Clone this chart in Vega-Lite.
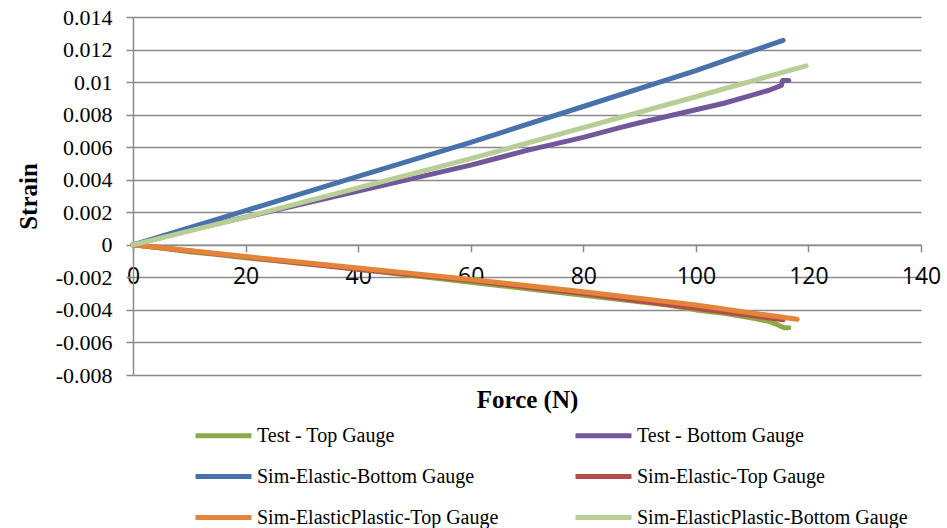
{
  "$schema": "https://vega.github.io/schema/vega-lite/v6.json",
  "autosize": "none",
  "width": 788,
  "height": 358,
  "padding": {"left": 133, "top": 17, "right": 26, "bottom": 153},
  "background": "white",
  "config": {
    "view": {"stroke": null},
    "axis": {"gridColor": "#8a8a8a", "gridWidth": 1.5, "domainColor": "#8a8a8a", "domainWidth": 1.5, "tickColor": "#8a8a8a", "tickWidth": 1.5, "labelColor": "black", "titleColor": "black"}
  },
  "data": {"values": [
    {"s": "Test - Top Gauge", "f": 0, "v": 0},
    {"s": "Test - Top Gauge", "f": 5, "v": -0.0002},
    {"s": "Test - Top Gauge", "f": 10, "v": -0.00042},
    {"s": "Test - Top Gauge", "f": 15, "v": -0.0006},
    {"s": "Test - Top Gauge", "f": 20, "v": -0.0008},
    {"s": "Test - Top Gauge", "f": 25, "v": -0.00097},
    {"s": "Test - Top Gauge", "f": 30, "v": -0.00115},
    {"s": "Test - Top Gauge", "f": 35, "v": -0.0013},
    {"s": "Test - Top Gauge", "f": 40, "v": -0.0015},
    {"s": "Test - Top Gauge", "f": 45, "v": -0.0017},
    {"s": "Test - Top Gauge", "f": 50, "v": -0.0019},
    {"s": "Test - Top Gauge", "f": 55, "v": -0.0021},
    {"s": "Test - Top Gauge", "f": 60, "v": -0.0023},
    {"s": "Test - Top Gauge", "f": 65, "v": -0.0025},
    {"s": "Test - Top Gauge", "f": 70, "v": -0.0027},
    {"s": "Test - Top Gauge", "f": 75, "v": -0.0029},
    {"s": "Test - Top Gauge", "f": 80, "v": -0.0031},
    {"s": "Test - Top Gauge", "f": 85, "v": -0.0033},
    {"s": "Test - Top Gauge", "f": 90, "v": -0.0035},
    {"s": "Test - Top Gauge", "f": 95, "v": -0.0037},
    {"s": "Test - Top Gauge", "f": 100, "v": -0.004},
    {"s": "Test - Top Gauge", "f": 105, "v": -0.0042},
    {"s": "Test - Top Gauge", "f": 110, "v": -0.0045},
    {"s": "Test - Top Gauge", "f": 113, "v": -0.0047},
    {"s": "Test - Top Gauge", "f": 114.5, "v": -0.0049},
    {"s": "Test - Top Gauge", "f": 115, "v": -0.005},
    {"s": "Test - Top Gauge", "f": 115.8, "v": -0.0051},
    {"s": "Test - Top Gauge", "f": 116.5, "v": -0.0051},
    {"s": "Test - Bottom Gauge", "f": 0, "v": 0},
    {"s": "Test - Bottom Gauge", "f": 5, "v": 0.00045},
    {"s": "Test - Bottom Gauge", "f": 10, "v": 0.0009},
    {"s": "Test - Bottom Gauge", "f": 15, "v": 0.0013},
    {"s": "Test - Bottom Gauge", "f": 20, "v": 0.0017},
    {"s": "Test - Bottom Gauge", "f": 25, "v": 0.0021},
    {"s": "Test - Bottom Gauge", "f": 30, "v": 0.0025},
    {"s": "Test - Bottom Gauge", "f": 35, "v": 0.0029},
    {"s": "Test - Bottom Gauge", "f": 40, "v": 0.0033},
    {"s": "Test - Bottom Gauge", "f": 45, "v": 0.0037},
    {"s": "Test - Bottom Gauge", "f": 50, "v": 0.0041},
    {"s": "Test - Bottom Gauge", "f": 55, "v": 0.0045},
    {"s": "Test - Bottom Gauge", "f": 60, "v": 0.0049},
    {"s": "Test - Bottom Gauge", "f": 65, "v": 0.00535},
    {"s": "Test - Bottom Gauge", "f": 70, "v": 0.0058},
    {"s": "Test - Bottom Gauge", "f": 75, "v": 0.0062},
    {"s": "Test - Bottom Gauge", "f": 80, "v": 0.0066},
    {"s": "Test - Bottom Gauge", "f": 86.5, "v": 0.0072},
    {"s": "Test - Bottom Gauge", "f": 90, "v": 0.0075},
    {"s": "Test - Bottom Gauge", "f": 95, "v": 0.0079},
    {"s": "Test - Bottom Gauge", "f": 100, "v": 0.0083},
    {"s": "Test - Bottom Gauge", "f": 105, "v": 0.0087},
    {"s": "Test - Bottom Gauge", "f": 110, "v": 0.0092},
    {"s": "Test - Bottom Gauge", "f": 113, "v": 0.0095},
    {"s": "Test - Bottom Gauge", "f": 115.2, "v": 0.0098},
    {"s": "Test - Bottom Gauge", "f": 115.4, "v": 0.0101},
    {"s": "Test - Bottom Gauge", "f": 116.5, "v": 0.0101},
    {"s": "Sim-Elastic-Bottom Gauge", "f": 0, "v": 0},
    {"s": "Sim-Elastic-Bottom Gauge", "f": 20, "v": 0.0021},
    {"s": "Sim-Elastic-Bottom Gauge", "f": 40, "v": 0.0042},
    {"s": "Sim-Elastic-Bottom Gauge", "f": 60, "v": 0.0063},
    {"s": "Sim-Elastic-Bottom Gauge", "f": 80, "v": 0.0085},
    {"s": "Sim-Elastic-Bottom Gauge", "f": 100, "v": 0.0107},
    {"s": "Sim-Elastic-Bottom Gauge", "f": 115.5, "v": 0.01257},
    {"s": "Sim-Elastic-Top Gauge", "f": 0, "v": 0},
    {"s": "Sim-Elastic-Top Gauge", "f": 20, "v": -0.00075},
    {"s": "Sim-Elastic-Top Gauge", "f": 40, "v": -0.0015},
    {"s": "Sim-Elastic-Top Gauge", "f": 60, "v": -0.0022},
    {"s": "Sim-Elastic-Top Gauge", "f": 80, "v": -0.003},
    {"s": "Sim-Elastic-Top Gauge", "f": 100, "v": -0.0039},
    {"s": "Sim-Elastic-Top Gauge", "f": 115.5, "v": -0.0046},
    {"s": "Sim-ElasticPlastic-Top Gauge", "f": 0, "v": 0},
    {"s": "Sim-ElasticPlastic-Top Gauge", "f": 20, "v": -0.00072},
    {"s": "Sim-ElasticPlastic-Top Gauge", "f": 40, "v": -0.00143},
    {"s": "Sim-ElasticPlastic-Top Gauge", "f": 60, "v": -0.00213},
    {"s": "Sim-ElasticPlastic-Top Gauge", "f": 80, "v": -0.00289},
    {"s": "Sim-ElasticPlastic-Top Gauge", "f": 100, "v": -0.0037},
    {"s": "Sim-ElasticPlastic-Top Gauge", "f": 118, "v": -0.00458},
    {"s": "Sim-ElasticPlastic-Bottom Gauge", "f": 0, "v": 0},
    {"s": "Sim-ElasticPlastic-Bottom Gauge", "f": 20, "v": 0.0017},
    {"s": "Sim-ElasticPlastic-Bottom Gauge", "f": 40, "v": 0.0035},
    {"s": "Sim-ElasticPlastic-Bottom Gauge", "f": 60, "v": 0.0053},
    {"s": "Sim-ElasticPlastic-Bottom Gauge", "f": 80, "v": 0.0072},
    {"s": "Sim-ElasticPlastic-Bottom Gauge", "f": 100, "v": 0.0091},
    {"s": "Sim-ElasticPlastic-Bottom Gauge", "f": 119.6, "v": 0.011}
  ]},
  "mark": {"type": "line", "strokeWidth": 5, "strokeCap": "round", "strokeJoin": "round"},
  "encoding": {
    "x": {
      "field": "f", "type": "quantitative",
      "scale": {"domain": [0, 140], "nice": false, "zero": false},
      "axis": {
        "values": [0, 20, 40, 60, 80, 100, 120, 140],
        "grid": false, "offset": -130.2, "tickSize": 7,
        "labelFont": "Open Sans", "labelFontSize": 23, "labelPadding": 14,
        "labelFlush": false, "labelOverlap": false,
        "title": "Force (N)", "titleFont": "Liberation Serif", "titleFontSize": 25, "titleFontWeight": "bold",
        "titleBaseline": "middle", "titleX": 394, "titleY": 155
      }
    },
    "y": {
      "field": "v", "type": "quantitative",
      "scale": {"domain": [-0.008, 0.014], "nice": false, "zero": false},
      "axis": {
        "values": [-0.008, -0.006, -0.004, -0.002, 0, 0.002, 0.004, 0.006, 0.008, 0.01, 0.012, 0.014],
        "labelExpr": "'' + datum.value",
        "grid": true, "tickSize": 7,
        "labelFont": "Liberation Serif", "labelFontSize": 22, "labelPadding": 14,
        "labelFlush": false, "labelOverlap": false,
        "title": "Strain", "titleFont": "Liberation Serif", "titleFontSize": 25, "titleFontWeight": "bold",
        "titleBaseline": "middle", "titleX": -105, "titleY": 179, "titleAngle": -90
      }
    },
    "color": {
      "field": "s", "type": "nominal",
      "scale": {
        "domain": ["Test - Top Gauge", "Sim-Elastic-Bottom Gauge", "Sim-ElasticPlastic-Top Gauge", "Test - Bottom Gauge", "Sim-Elastic-Top Gauge", "Sim-ElasticPlastic-Bottom Gauge"],
        "range": ["#8CAA4A", "#4773AA", "#E4843A", "#72589A", "#B44C48", "#B9CE96"]
      },
      "legend": {
        "title": null, "orient": "none", "legendX": 60, "legendY": 388,
        "columns": 2, "columnPadding": 66, "rowPadding": -15,
        "symbolType": "stroke", "symbolSize": 3136, "symbolStrokeWidth": 5,
        "labelFont": "Liberation Serif", "labelFontSize": 20, "labelOffset": 3, "labelLimit": 400, "labelColor": "black"
      }
    }
  }
}
